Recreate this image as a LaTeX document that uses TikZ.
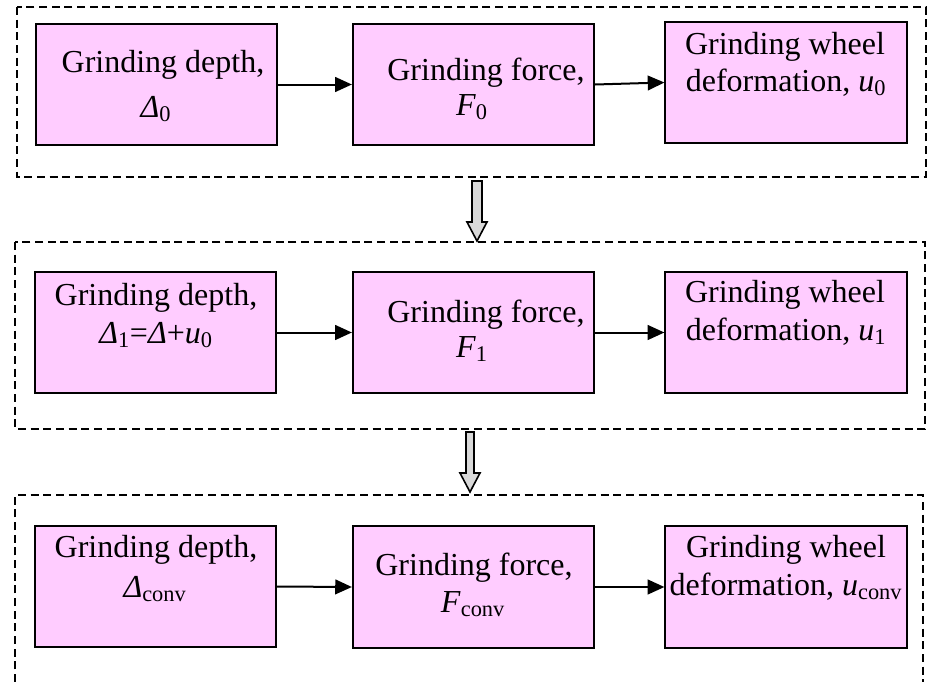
\documentclass[tikz,border=0pt]{standalone}
\usepackage{fontspec}
\setmainfont{Liberation Serif}
\usetikzlibrary{arrows.meta}
\definecolor{boxpink}{RGB}{255,204,255}
\definecolor{hollowgray}{RGB}{217,217,217}
\newcommand{\dlt}{{\itshape Δ}}
\newcommand{\sbs}[1]{\textsubscript{#1}}
\begin{document}
\begin{tikzpicture}[x=0.75pt,y=-0.75pt,
  stagebox/.style={draw=black, line width=1.4pt, fill=boxpink, minimum width=181pt, minimum height=91pt, inner sep=0pt},
  linetext/.style={anchor=base, inner sep=0pt, font=\fontsize{24}{28}\selectfont},
  frame/.style={draw=black, dash pattern=on 6pt off 3.5pt, line width=1.1pt},
  flow/.style={-{Triangle[length=12.5pt,width=11pt]}, line width=1.5pt},
  hollow/.style={draw=black, line width=1.2pt, fill=hollowgray, line join=miter}
]
\useasboundingbox (0,0) rectangle (932,682);

% dashed frames
\draw[frame] (17,7) rectangle (926,177);
\draw[frame] (15,242) rectangle (925,429);
\draw[frame] (15,682) -- (15,495) -- (923,495) -- (923,682);

% hollow arrows between stages
\draw[hollow] (472,181) -- (482,181) -- (482,222) -- (487,222) -- (477,241) -- (467,222) -- (472,222) -- cycle;
\draw[hollow] (466,432) -- (474,432) -- (474,473) -- (480,473) -- (470,492) -- (460,473) -- (466,473) -- cycle;

% row 1
\node[stagebox] (d0) at (156.5,84.5) {};
\node[stagebox] (f0) at (473.5,84.5) {};
\node[stagebox] (w0) at (786,82.5) {};
\node[linetext] (d0a) at (163,72) {Grinding depth,};
\node[linetext] (d0b) at (156,117) {\dlt\sbs{0}};
\node[linetext] (f0a) at (486,80) {Grinding force,};
\node[linetext] (f0b) at (472,115) {\textit{F}\sbs{0}};
\node[linetext] (w0a) at (785,54) {Grinding wheel};
\node[linetext] (w0b) at (786,91) {deformation, \textit{u}\sbs{0}};
\draw[flow] (d0.east) -- (f0.west);
\draw[flow] (f0.east) -- (w0.west);

% row 2
\node[stagebox] (d1) at (155.5,332.5) {};
\node[stagebox] (f1) at (473.5,332.5) {};
\node[stagebox] (w1) at (786,332.5) {};
\node[linetext] (d1a) at (156,305) {Grinding depth,};
\node[linetext] (d1b) at (156,343) {\dlt\sbs{1}=\dlt+\textit{u}\sbs{0}};
\node[linetext] (f1a) at (486,322) {Grinding force,};
\node[linetext] (f1b) at (472,357) {\textit{F}\sbs{1}};
\node[linetext] (w1a) at (785,302) {Grinding wheel};
\node[linetext] (w1b) at (786,340) {deformation, \textit{u}\sbs{1}};
\draw[flow] (d1.east) -- (f1.west);
\draw[flow] (f1.east) -- (w1.west);

% row 3
\node[stagebox] (dc) at (155.5,586.5) {};
\node[stagebox] (fc) at (473.5,587) {};
\node[stagebox] (wc) at (786,587) {};
\node[linetext] (dca) at (156,557) {Grinding depth,};
\node[linetext] (dcb) at (155,597) {\dlt\sbs{conv}};
\node[linetext] (fca) at (474,575) {Grinding force,};
\node[linetext] (fcb) at (473,612) {\textit{F}\sbs{conv}};
\node[linetext] (wca) at (786,557) {Grinding wheel};
\node[linetext] (wcb) at (786,595) {deformation, \textit{u}\sbs{conv}};
\draw[flow] (dc.east) -- (fc.west);
\draw[flow] (fc.east) -- (wc.west);
\end{tikzpicture}
\end{document}
